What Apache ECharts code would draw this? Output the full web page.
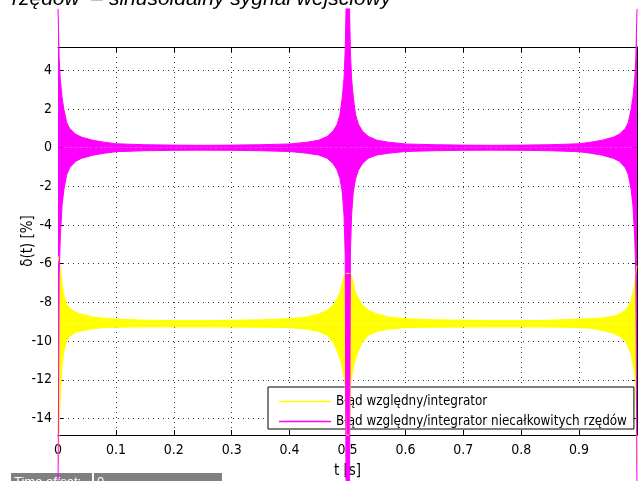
<!DOCTYPE html>
<html>
<head>
<meta charset="utf-8">
<script src="https://cdn.jsdelivr.net/npm/echarts@6/dist/echarts.min.js"></script>
<style>
  html, body { margin: 0; padding: 0; background: #fff; }
  #chart { width: 643px; height: 481px; }
</style>
</head>
<body>
<div id="chart"></div>
<script>
// time samples [s]
const tSec = [0, 0.002, 0.004, 0.007, 0.01, 0.015, 0.02, 0.03, 0.04, 0.06, 0.08, 0.1, 0.15, 0.2, 0.25, 0.3, 0.35, 0.4, 0.43, 0.45, 0.465, 0.475, 0.482, 0.487, 0.491, 0.494, 0.496, 0.4975,
  0.5035, 0.505, 0.507, 0.51, 0.514, 0.519, 0.526, 0.536, 0.551, 0.571, 0.6, 0.65, 0.7, 0.75, 0.8, 0.85, 0.9, 0.92, 0.94, 0.96, 0.97, 0.98, 0.985, 0.99, 0.993, 0.996, 0.998, 1.0]

// envelope of the integrator error (yellow)
const intUpper = [-5.6, -5.7, -6.2, -7.0, -7.6, -8.1, -8.3, -8.5, -8.6, -8.75, -8.82, -8.86, -8.92, -8.94, -8.94, -8.92, -8.9, -8.84, -8.75, -8.6, -8.4, -8.15, -7.8, -7.5, -7.0, -6.6, -6.5, -6.5,
  -6.5, -6.5, -6.6, -7.0, -7.5, -7.8, -8.15, -8.4, -8.6, -8.75, -8.84, -8.9, -8.92, -8.94, -8.94, -8.92, -8.86, -8.84, -8.8, -8.7, -8.6, -8.4, -8.2, -7.9, -7.5, -7.0, -6.5, -6.1]
const intLower = [-16.3, -14.5, -12.8, -11.3, -10.6, -9.95, -9.75, -9.55, -9.48, -9.36, -9.3, -9.28, -9.26, -9.26, -9.26, -9.27, -9.28, -9.3, -9.38, -9.5, -9.7, -10.05, -10.5, -10.9, -11.4, -11.9, -12.3, -14.85,
  -14.85, -12.3, -11.9, -11.4, -10.9, -10.5, -10.05, -9.7, -9.5, -9.38, -9.3, -9.28, -9.27, -9.26, -9.26, -9.27, -9.3, -9.33, -9.45, -9.6, -9.75, -10.0, -10.3, -10.7, -11.2, -11.7, -12.2, -16.3]
const intCentre = -9.1

// envelope of the fractional-order integrator error (magenta)
const fracUpper = [7.17, 4.6, 3.5, 2.6, 2.0, 1.3, 1.0, 0.7, 0.55, 0.38, 0.28, 0.2, 0.15, 0.13, 0.12, 0.13, 0.15, 0.19, 0.28, 0.38, 0.58, 0.85, 1.2, 1.7, 2.6, 3.6, 5.0, 7.17,
  7.17, 5.0, 3.6, 2.6, 1.7, 1.2, 0.85, 0.58, 0.38, 0.28, 0.19, 0.15, 0.13, 0.12, 0.13, 0.15, 0.2, 0.28, 0.38, 0.55, 0.7, 1.0, 1.3, 2.0, 2.6, 3.5, 4.6, 7.17]
const fracLower = [-18, -6.5, -4.6, -3.0, -2.2, -1.4, -1.05, -0.72, -0.56, -0.39, -0.29, -0.21, -0.16, -0.14, -0.13, -0.14, -0.16, -0.2, -0.29, -0.38, -0.55, -0.82, -1.15, -1.6, -2.3, -3.5, -5.5, -18,
  -18, -5.5, -3.5, -2.3, -1.6, -1.15, -0.82, -0.55, -0.38, -0.29, -0.2, -0.16, -0.14, -0.13, -0.14, -0.16, -0.21, -0.29, -0.39, -0.56, -0.72, -1.05, -1.4, -2.2, -3.0, -4.6, -6.5, -18]
const fracCentre = 0

const yTicks = [-14, -12, -10, -8, -6, -4, -2, 0, 2, 4]
const seriesNames = ['Błąd względny/integrator', 'Błąd względny/integrator niecałkowitych rzędów']

const NARROW = "'Liberation Sans Narrow', 'Arial Narrow', 'DejaVu Sans Condensed', sans-serif"
const YELLOW = '#ffff00'
const MAGENTA = '#ff00ff'

// the dense oscillation shows as a filled band: upper edge filled down to the
// centre line, lower edge filled up to it
function bandSeries (name, key, lower, upper, centre, color) {
  const common = {
    type: 'line',
    symbol: 'none',
    clip: false,
    silent: true,
    z: 4,
    itemStyle: { color: color },
    lineStyle: { color: color, width: 1 }
  }
  return [
    Object.assign({}, common, {
      name: key + '-low',
      data: tSec.map((t, i) => [t, lower[i]]),
      areaStyle: { color: color, opacity: 1, origin: centre }
    }),
    Object.assign({}, common, {
      name: name,
      data: tSec.map((t, i) => [t, upper[i]]),
      areaStyle: { color: color, opacity: 1, origin: centre }
    })
  ]
}

const dotted = { show: true, lineStyle: { color: '#333', type: [1, 4], width: 1 } }
const chart = echarts.init(document.getElementById('chart'))
chart.setOption({
  backgroundColor: '#fff',
  animation: false,
  grid: { left: 58, right: 6, top: 47, bottom: 46, outerBoundsMode: 'none' },
  legend: {
    data: seriesNames,
    orient: 'vertical',
    left: 268,
    top: 387,
    z: 3,
    icon: 'rect',
    itemWidth: 52,
    itemHeight: 1.5,
    itemGap: 7,
    padding: [8, 7, 1, 11],
    backgroundColor: '#fff',
    borderColor: '#000',
    borderWidth: 1,
    borderRadius: 0,
    textStyle: { fontFamily: NARROW, fontSize: 13.35, color: '#000' }
  },
  xAxis: [
    {
      type: 'value',
      min: 0,
      max: 1,
      interval: 0.1,
      name: 't [s]',
      nameLocation: 'middle',
      nameGap: 29,
      nameMoveOverlap: false,
      nameTextStyle: { fontFamily: NARROW, fontSize: 15, color: '#000' },
      axisLine: { onZero: false, lineStyle: { color: '#000', width: 1 } },
      axisTick: { inside: true, length: 5, lineStyle: { color: '#000' } },
      axisLabel: {
        showMaxLabel: false,
        margin: 8,
        fontFamily: NARROW,
        fontSize: 14,
        color: '#000',
        formatter: v => String(Math.round(v * 10) / 10)
      },
      splitLine: dotted
    },
    {
      type: 'value',
      position: 'top',
      min: 0,
      max: 1,
      interval: 0.1,
      axisLine: { onZero: false, lineStyle: { color: '#000', width: 1 } },
      axisTick: { inside: true, length: 5, lineStyle: { color: '#000' } },
      axisLabel: { show: false },
      splitLine: { show: false }
    }
  ],
  yAxis: [
    {
      type: 'value',
      min: -14.85,
      max: 5.2,
      name: 'δ(t) [%]',
      nameLocation: 'middle',
      nameGap: 22,
      nameMoveOverlap: false,
      nameTextStyle: { fontFamily: NARROW, fontSize: 15, color: '#000' },
      axisLine: { onZero: false, lineStyle: { color: '#000', width: 1 } },
      axisTick: { inside: true, length: 5, customValues: yTicks, lineStyle: { color: '#000' } },
      axisLabel: { customValues: yTicks, margin: 6, fontFamily: NARROW, fontSize: 14, color: '#000' },
      splitLine: dotted
    },
    {
      type: 'value',
      position: 'right',
      min: -14.85,
      max: 5.2,
      axisLine: { show: true, onZero: false, lineStyle: { color: '#000', width: 1 } },
      axisTick: { show: true, inside: true, length: 5, customValues: yTicks, lineStyle: { color: '#000' } },
      axisLabel: { show: false },
      splitLine: { show: false }
    }
  ],
  graphic: [
    {
      type: 'text',
      left: 12,
      top: -11,
      style: {
        text: 'rzędów  – sinusoidalny sygnał wejściowy',
        font: 'italic 21px "Liberation Sans", Arial, sans-serif',
        fill: '#000'
      }
    },
    {
      type: 'group',
      left: 11,
      top: 473,
      children: [
        { type: 'rect', shape: { x: 0, y: 0, width: 81, height: 12 }, style: { fill: '#808080' } },
        { type: 'rect', shape: { x: 83, y: 0, width: 128, height: 12 }, style: { fill: '#808080' } },
        { type: 'text', x: 3, y: 3, style: { text: 'Time offset:', font: '13px "Liberation Sans", Arial, sans-serif', fill: '#fff' } },
        { type: 'text', x: 86, y: 3, style: { text: '0', font: '13px "Liberation Sans", Arial, sans-serif', fill: '#fff' } }
      ]
    }
  ],
  series: [].concat(
    bandSeries(seriesNames[0], 'int', intLower, intUpper, intCentre, YELLOW),
    bandSeries(seriesNames[1], 'frac', fracLower, fracUpper, fracCentre, MAGENTA)
  )
})
</script>
</body>
</html>
